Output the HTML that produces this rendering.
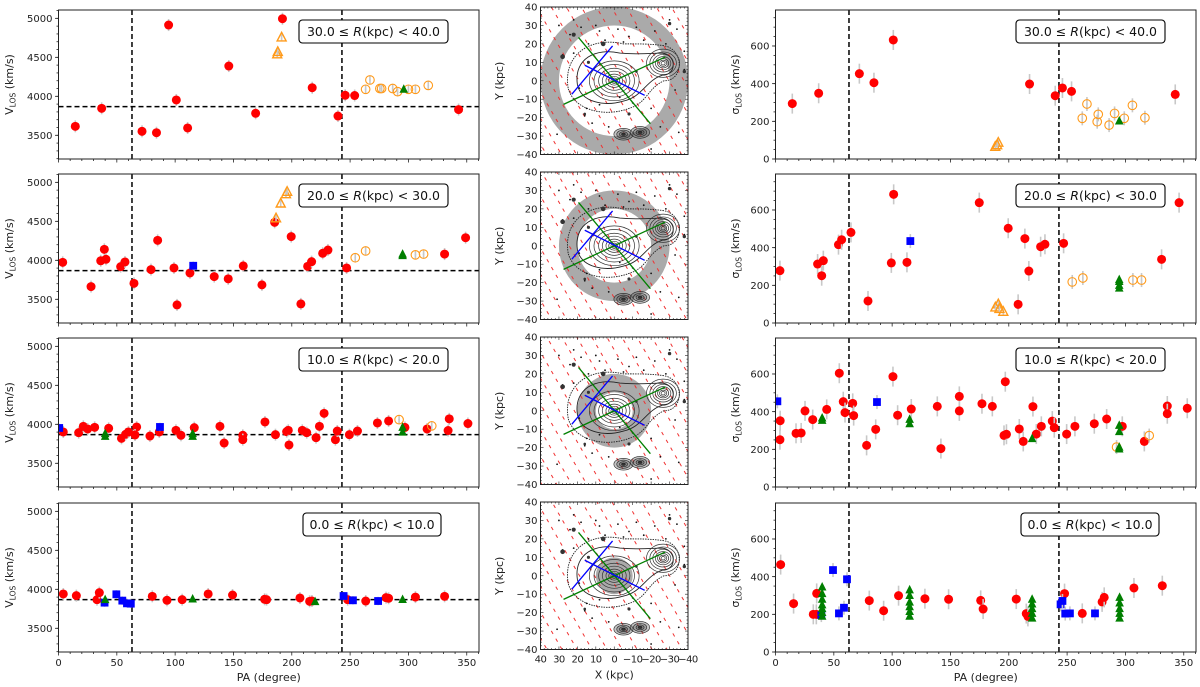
<!DOCTYPE html>
<html><head><meta charset="utf-8">
<style>
html,body{margin:0;padding:0;background:#fff;}
svg{display:block;font-family:"DejaVu Sans","Liberation Sans",sans-serif;}
</style></head>
<body>
<svg id="fig" width="1200" height="687" viewBox="0 0 1200 687" xmlns="http://www.w3.org/2000/svg">
<defs>
<pattern id="hatch" patternUnits="userSpaceOnUse" width="13" height="9" patternTransform="rotate(-30)">
<line x1="6" y1="3" x2="6" y2="6.5" stroke="#f03030" stroke-width="1"/>
</pattern>
</defs>
</svg>
<script>
// ===== Left column data: V_LOS vs PA =====
const bins = ["30.0","40.0","20.0","30.0","10.0","20.0","0.0","10.0"];
const vRed1 = [[14.4,3615],[37,3846],[71.6,3551],[84,3533],[94.4,4914],[101,3953],[110.7,3594],[146,4388],[169,3782],[192,4995],[217.5,4110],[239.6,3747],[245.8,4013],[253.9,4010],[343,3830]];
const vOrTri1 = [[191.3,4756],[187.5,4540],[188,4570]];
const vOrCirc1 = [[263.3,4090],[267,4210],[275.5,4100],[277,4100],[286.5,4100],[290.7,4060],[300,4090],[306,4090],[317,4140]];
const vGreen1 = [[296,4090]];
const vBlue1 = [];
const vRed2 = [[3.6,3974],[27.9,3663],[36.2,3994],[39.3,4141],[40.7,4013],[53.3,3919],[57,3979],[64.7,3705],[79.3,3881],[85,4256],[99,3902],[101.6,3428],[112.7,3838],[133.5,3791],[145.5,3762],[158.4,3928],[174.4,3685],[185.3,4487],[199.5,4304],[207.8,3441],[213.6,3923],[217,3983],[226.5,4090],[231,4132],[247,3902],[331,4080],[349,4290]];
const vBlue2 = [[115.5,3930]];
const vOrTri2 = [[186.5,4540],[190.5,4730],[195,4850],[196,4880]];
const vOrCirc2 = [[254.4,4033],[263.3,4120],[306,4070],[313,4080]];
const vGreen2 = [[295,4060],[295,4080]];
const vRed3 = [[4.1,3902],[17.3,3893],[21.3,3974],[25,3940],[31,3961],[43,3949],[54,3820],[57.6,3872],[60,3902],[67,3966],[65.6,3863],[78.4,3850],[86.4,3902],[100.7,3923],[105,3859],[116.4,3957],[138.4,3974],[142,3760],[158,3859],[158,3803],[177,4030],[186,3867],[195.6,3906],[197,3923],[197.6,3735],[209,3923],[212.8,3893],[220.8,3829],[223.7,3974],[227.7,4141],[237.4,3803],[239,3914],[249.4,3867],[256.3,3914],[273.4,4017],[283,4043],[297,3960],[316,3940],[335,4070],[334,3920],[351,4010]];
const vBlue3 = [[0.6,3953],[87,3966]];
const vGreen3 = [[40,3846],[40,3880],[115,3846],[115,3880],[295,3900],[295,3960]];
const vOrCirc3 = [[292,4060],[320,3980]];
const vOrTri3 = [];
const vRed4 = [[4.1,3940],[15.3,3919],[33,3867],[35,3957],[80.4,3910],[93,3859],[106,3867],[128.3,3940],[149.2,3927],[176.7,3872],[178.4,3867],[207,3889],[215.3,3846],[217.3,3850],[247.9,3867],[263.4,3850],[280.8,3893],[283,3885],[306,3900],[331,3910]];
const vBlue4 = [[39.5,3829],[49.6,3936],[54.7,3855],[58.7,3820],[62,3816],[244.4,3914],[252.4,3859],[274,3850]];
const vGreen4 = [[40,3867],[115,3876],[220,3842],[295,3870]];
const vOrCirc4 = [];
const vOrTri4 = [];
// ===== Right column data: sigma_LOS vs PA =====
const sRed1 = [[14.4,294],[37,349],[71.9,453],[84.4,405],[101,632],[217.8,398],[239.8,336],[246,377],[253.8,359],[342.7,343]];
const sOrTri1 = [[191,87],[188.4,65],[190,74]];
const sOrCirc1 = [[263,216],[267,292],[275.8,198],[276.7,237],[286,180],[290.7,242],[299,216],[306,285],[316.7,219]];
const sGreen1 = [[294.7,202]];
const sBlue1 = [];
const sRed2 = [[3.8,278],[36.1,313],[41,331],[39.6,251],[54,416],[56.7,442],[64.7,481],[79.3,117],[99.3,319],[101.3,683],[112.7,322],[174.7,639],[199.5,503],[208,99],[213.8,448],[217.2,276],[227.3,405],[231,418],[247,423],[331,338],[346,639]];
const sBlue2 = [[115.6,435]];
const sOrTri2 = [[191,100],[188.5,83],[195.3,60],[192,75]];
const sOrCirc2 = [[254.4,218],[263.5,239],[306.4,228],[313.8,228]];
const sGreen2 = [[294.7,185],[294.7,200],[294.7,220],[294.7,230]];
const sRed3 = [[3.8,251],[4,352],[17.6,285],[22,287],[25.3,404],[31.9,358],[43.9,412],[54.7,604],[58.1,453],[59.6,395],[66.2,444],[67,379],[78.1,221],[85.9,306],[100.7,586],[104.7,381],[116.4,414],[138.7,428],[141.8,204],[157.6,481],[157.6,404],[177,442],[185.9,428],[197,559],[195.9,274],[198,280],[209,308],[212.4,242],[220.7,427],[223.6,281],[227.9,322],[237.3,350],[239,315],[249.6,281],[256.7,322],[273.3,336],[283.9,361],[297.3,322],[316.2,242],[335.9,430],[335.9,389],[353,418]];
const sBlue3 = [[1.6,455],[87,451]];
const sGreen3 = [[40,366],[40,354],[115,359],[115,336],[220,257],[294.7,327],[294.7,294],[294.7,212],[294.7,202]];
const sOrCirc3 = [[292.4,212],[320.4,273]];
const sOrTri3 = [];
const sRed4 = [[4.4,464],[15.5,257],[35,200],[32.4,200],[35.3,311],[80.4,273],[92.7,219],[105.5,299],[128.1,283],[148.4,280],[175.9,274],[178,228],[206.4,281],[215,204],[216.4,189],[247.8,310],[263,205],[280,266],[281.8,290],[307.3,340],[331.6,352]];
const sBlue4 = [[39.3,196],[49.3,435],[54.4,205],[58.7,235],[61.3,386],[244.4,253],[246,271],[248.4,204],[252.4,205],[273.9,205]];
const sGreen4 = [[40,190],[40,210],[40,230],[40,250],[40,280],[40,310],[40,345],[115,190],[115,215],[115,240],[115,265],[115,300],[115,330],[220,180],[220,205],[220,230],[220,255],[220,280],[295,180],[295,205],[295,230],[295,260],[295,290]];
const sOrCirc4 = [];
const sOrTri4 = [];
// reference lines
const paLines = [63, 243];
const vSys = 3867;
const vTicks = [3500, 4000, 4500, 5000];
const sTicks = [0, 200, 400, 600];
const paTicks = [0, 50, 100, 150, 200, 250, 300, 350];
const kpcTicks = [40, 30, 20, 10, 0, -10, -20, -30, -40];
const kpcLabelsX = ["40","30","20","10","0","\u221210","\u221220","\u221230","\u221240"];
// map features (kpc)
const greenLines = [[[19.4,23.5],[-19.6,-23.3]],[[27.5,-12.8],[-27.7,12.9]]];
const blueLines = [[[23,-7.3],[0.9,18.9]],[[16,8.4],[-16.5,-7.9]]];
const annuli = [[30,40],[20,30],[10,20],[0,10]];

const SERIES = {
  v: [
    {red:vRed1, blue:vBlue1, green:vGreen1, orcirc:vOrCirc1, ortri:vOrTri1},
    {red:vRed2, blue:vBlue2, green:vGreen2, orcirc:vOrCirc2, ortri:vOrTri2},
    {red:vRed3, blue:vBlue3, green:vGreen3, orcirc:vOrCirc3, ortri:vOrTri3},
    {red:vRed4, blue:vBlue4, green:vGreen4, orcirc:vOrCirc4, ortri:vOrTri4}
  ],
  s: [
    {red:sRed1, blue:sBlue1, green:sGreen1, orcirc:sOrCirc1, ortri:sOrTri1},
    {red:sRed2, blue:sBlue2, green:sGreen2, orcirc:sOrCirc2, ortri:sOrTri2},
    {red:sRed3, blue:sBlue3, green:sGreen3, orcirc:sOrCirc3, ortri:sOrTri3},
    {red:sRed4, blue:sBlue4, green:sGreen4, orcirc:sOrCirc4, ortri:sOrTri4}
  ]
};

const NS = "http://www.w3.org/2000/svg";
const svg = document.getElementById("fig");
function el(tag, attrs, parent, name, inter) {
  const e = document.createElementNS(NS, tag);
  for (const k in attrs) e.setAttribute(k, attrs[k]);
  
  
  (parent || svg).appendChild(e);
  return e;
}
function txt(s, attrs, parent, name) {
  const t = el("text", attrs, parent, name, false);
  t.textContent = s;
  return t;
}

const tops = [10, 174, 338, 503];
const PH = 149;
const LX0 = 58.5, LX1 = 479, RX0 = 775.5, RX1 = 1196;
const PAMAX = 360.5;
const VMIN = 3196, VMAX = 5107, SMIN = 0, SMAX = 791;

function drawMarkers(g, pts, kind, sx, sy, errLen, name) {
  pts.forEach(function(p) {
    const x = sx(p[0]), y = sy(p[1]);
    el("line", {x1:x, x2:x, y1:y-errLen, y2:y+errLen, stroke:"#c8c8c8", "stroke-width":1.6}, g, name + "-errorbar", false);
    if (kind === "red") {
      el("circle", {cx:x, cy:y, r:4.5, fill:"#ff0000"}, g, name + "-point", false);
    } else if (kind === "blue") {
      el("rect", {x:x-3.9, y:y-3.9, width:7.8, height:7.8, fill:"#0000ff"}, g, name + "-point", false);
    } else if (kind === "green") {
      el("polygon", {points:(x)+","+(y-5)+" "+(x-4.3)+","+(y+3.5)+" "+(x+4.3)+","+(y+3.5), fill:"#007f00"}, g, name + "-point", false);
    } else if (kind === "orcirc") {
      el("circle", {cx:x, cy:y, r:4.3, fill:"none", stroke:"#ff9a1a", "stroke-width":1.1}, g, name + "-point", false);
      el("circle", {cx:x, cy:y, r:0.9, fill:"#c8c8c8"}, g, name + "-center", false);
    } else if (kind === "ortri") {
      el("polygon", {points:(x)+","+(y-5)+" "+(x-4.5)+","+(y+3.6)+" "+(x+4.5)+","+(y+3.6), fill:"none", stroke:"#ff9a1a", "stroke-width":1.4}, g, name + "-point", false);
    }
  });
}

function scatterPanel(i, side) {
  const top = tops[i], bot = top + PH;
  const x0 = side === "L" ? LX0 : RX0, x1 = side === "L" ? LX1 : RX1;
  const ymin = side === "L" ? VMIN : SMIN, ymax = side === "L" ? VMAX : SMAX;
  const sx = function(pa){ return x0 + (pa / PAMAX) * (x1 - x0); };
  const sy = function(v){ return bot - (v - ymin) / (ymax - ymin) * PH; };
  const pname = (side === "L" ? "vlos-panel-" : "sigma-panel-") + (i + 1);
  const g = el("g", {}, svg, pname, false);
  const cid = "clip" + side + i;
  const cp = el("clipPath", {id: cid}, g, pname + "-clip", false);
  el("rect", {x:x0, y:top, width:x1-x0, height:PH}, cp, pname + "-clip-rect", false);
  el("rect", {x:x0, y:top, width:x1-x0, height:PH, fill:"#fff"}, g, pname + "-background", false);
  const plot = el("g", {"clip-path":"url(#" + cid + ")"}, g, pname + "-plot-area", false);
  paLines.forEach(function(pa){
    el("line", {x1:sx(pa), x2:sx(pa), y1:top, y2:bot, stroke:"#000", "stroke-width":1.5, "stroke-dasharray":"5,3"}, plot, pname + "-pa-line", false);
  });
  if (side === "L") {
    el("line", {x1:x0, x2:x1, y1:sy(vSys), y2:sy(vSys), stroke:"#000", "stroke-width":1.5, "stroke-dasharray":"5,3"}, plot, pname + "-vsys-line", false);
  }
  const S = SERIES[side === "L" ? "v" : "s"][i];
  const errL = side === "L" ? 6 : 10;
  drawMarkers(plot, S.red, "red", sx, sy, errL, pname + "-red");
  drawMarkers(plot, S.ortri, "ortri", sx, sy, 3, pname + "-orange-triangle");
  drawMarkers(plot, S.orcirc, "orcirc", sx, sy, errL*0.7, pname + "-orange-circle");
  drawMarkers(plot, S.blue, "blue", sx, sy, errL*0.7, pname + "-blue-square");
  drawMarkers(plot, S.green, "green", sx, sy, 3, pname + "-green-triangle");
  el("rect", {x:x0, y:top, width:x1-x0, height:PH, fill:"none", stroke:"#222", "stroke-width":1}, g, pname + "-frame", false);
  for (let pa = 0; pa <= 360; pa += 10) {
    const major = pa % 50 === 0;
    el("line", {x1:sx(pa), x2:sx(pa), y1:bot, y2:bot + (major ? 3.5 : 2), stroke:"#222", "stroke-width":0.8}, g, pname + "-x-tick", false);
  }
  if (i === 3) {
    paTicks.forEach(function(pa){
      txt(String(pa), {x:sx(pa), y:bot + 14, "font-size":10, "text-anchor":"middle", fill:"#222"}, g, pname + "-x-tick-label");
    });
    txt("PA (degree)", {x:(x0 + x1) / 2, y:bot + 29, "font-size":11, "text-anchor":"middle", fill:"#222"}, g, pname + "-x-axis-title");
  }
  const ticks = side === "L" ? vTicks : sTicks;
  const minorStep = side === "L" ? 100 : 50;
  for (let v = Math.ceil(ymin / minorStep) * minorStep; v <= ymax; v += minorStep) {
    el("line", {x1:x0 - 2, x2:x0, y1:sy(v), y2:sy(v), stroke:"#222", "stroke-width":0.8}, g, pname + "-y-minor-tick", false);
  }
  ticks.forEach(function(v){
    el("line", {x1:x0 - 3.5, x2:x0, y1:sy(v), y2:sy(v), stroke:"#222", "stroke-width":0.8}, g, pname + "-y-tick", false);
    txt(String(v), {x:x0 - 6, y:sy(v) + 3.6, "font-size":10, "text-anchor":"end", fill:"#222"}, g, pname + "-y-tick-label");
  });
  const tx = side === "L" ? 13 : 739;
  const ty = top + PH / 2;
  const t = el("text", {x:tx, y:ty, "font-size":11, "text-anchor":"middle", fill:"#222", transform:"rotate(-90 " + tx + " " + ty + ")"}, g, pname + "-y-axis-title", false);
  const sym = side === "L" ? "V" : "\u03c3";
  const a = document.createElementNS(NS, "tspan"); a.textContent = sym; t.appendChild(a);
  const b = document.createElementNS(NS, "tspan"); b.setAttribute("font-size", "7.5"); b.setAttribute("dy", "2.5"); b.textContent = "LOS"; t.appendChild(b);
  const c = document.createElementNS(NS, "tspan"); c.setAttribute("dy", "-2.5"); c.textContent = " (km/s)"; t.appendChild(c);
  const bx = side === "L" ? (i === 3 ? 303 : 299) : (i === 3 ? 1021 : 1016);
  const bw = i === 3 ? 138 : 149;
  el("rect", {x:bx, y:top + 10, width:bw, height:23, rx:3.5, fill:"#fff", stroke:"#000", "stroke-width":1.1}, g, pname + "-bin-label-box", false);
  const lt = el("text", {x:bx + bw / 2, y:top + 26, "font-size":12.5, "text-anchor":"middle", fill:"#111"}, g, pname + "-bin-label", false);
  lt.textContent = bins[2*i] + " \u2264 ";
  const ri = document.createElementNS(NS, "tspan"); ri.setAttribute("font-style", "italic"); ri.textContent = "R"; lt.appendChild(ri);
  const rest = document.createElementNS(NS, "tspan"); rest.textContent = "(kpc) < " + bins[2*i + 1]; lt.appendChild(rest);
}

// ===== middle maps =====
const MX0 = 540.5, MS = 147.5;
const mtops = [7, 172, 337, 502];
const dots = [[31,-29],[22,33],[28,14],[24,25],[18,29],[8,27],[5,22],[10,30],[-2,28],[14,20],[-5,21],[-8,24],[-12,29],[-22,27],[-30,33],[-34,28],[-38,16],[-38,6],[15,-15],[12,-23],[8,-13],[-10,-12],[-20,-15],[-35,-28],[-20,-37],[19,-4],[22,15],[-3,-9],[-16,22],[30,30],[16,-19],[3,-25],[-25,-25],[-33,-5],[-28,20]];
const bigDots = [[28,13,1.8],[22,25,1.6],[6,20,1.8],[-30,31,1.3],[14,10,1.2],[-12,5,1.0],[-38,5,1.3],[-8,-18,1.2],[16,-18,1.0]];

function mapPanel(i) {
  const top = mtops[i];
  const mx = function(X){ return MX0 + (40 - X) / 80 * MS; };
  const my = function(Y){ return top + (40 - Y) / 80 * MS; };
  const k = MS / 80;
  const pname = "map-panel-" + (i + 1);
  const g = el("g", {}, svg, pname, false);
  const cid = "mclip" + i;
  const cp = el("clipPath", {id:cid}, g, pname + "-clip", false);
  el("rect", {x:MX0, y:top, width:MS, height:MS}, cp, pname + "-clip-rect", false);
  el("rect", {x:MX0, y:top, width:MS, height:MS, fill:"#fff"}, g, pname + "-background", false);
  const p = el("g", {"clip-path":"url(#" + cid + ")"}, g, pname + "-plot-area", false);
  const r0 = annuli[i][0] * k, r1 = annuli[i][1] * k;
  const cx = mx(0), cy = my(0);
  let d = "M" + (cx - r1) + "," + cy + " a" + r1 + "," + r1 + " 0 1,0 " + (2*r1) + ",0 a" + r1 + "," + r1 + " 0 1,0 " + (-2*r1) + ",0 Z";
  if (r0 > 0) d += " M" + (cx - r0) + "," + cy + " a" + r0 + "," + r0 + " 0 1,1 " + (2*r0) + ",0 a" + r0 + "," + r0 + " 0 1,1 " + (-2*r0) + ",0 Z";
  el("path", {d:d, fill:"#aaaaaa", "fill-rule":"evenodd"}, p, pname + "-radial-bin", false);
  el("rect", {x:MX0, y:top, width:MS, height:MS, fill:"url(#hatch)"}, p, pname + "-slit-hatch", false);
  el("path", {d:"M" + mx(25) + "," + my(-4) + " C" + mx(28) + "," + my(15) + " " + mx(12) + "," + my(24) + " " + mx(-5) + "," + my(20) + " C" + mx(-15) + "," + my(20) + " " + mx(-20) + "," + my(20) + " " + mx(-27) + "," + my(19) + " C" + mx(-38) + "," + my(17) + " " + mx(-38) + "," + my(0) + " " + mx(-27) + "," + my(0) + " C" + mx(-18) + "," + my(-4) + " " + mx(-18) + "," + my(-12) + " " + mx(-8) + "," + my(-15) + " C" + mx(5) + "," + my(-20) + " " + mx(22) + "," + my(-16) + " " + mx(25) + "," + my(-4) + " Z", fill:"none", stroke:"#222", "stroke-width":0.9, "stroke-dasharray":"1.5,1"}, p, pname + "-outer-contour", false);
  el("path", {d:"M" + mx(20) + "," + my(-2) + " C" + mx(22) + "," + my(12) + " " + mx(10) + "," + my(18) + " " + mx(-3) + "," + my(15) + " C" + mx(-14) + "," + my(14) + " " + mx(-20) + "," + my(15) + " " + mx(-26) + "," + my(15) + " C" + mx(-34) + "," + my(14) + " " + mx(-34) + "," + my(3) + " " + mx(-26) + "," + my(3) + " C" + mx(-17) + "," + my(0) + " " + mx(-15) + "," + my(-9) + " " + mx(-5) + "," + my(-11) + " C" + mx(5) + "," + my(-14) + " " + mx(18) + "," + my(-12) + " " + mx(20) + "," + my(-2) + " Z", fill:"none", stroke:"#222", "stroke-width":0.9}, p, pname + "-contour", false);
  [13.5, 11, 8.5, 6.5, 4.5, 3, 1.8, 0.9].forEach(function(r){
    el("ellipse", {cx:cx, cy:cy, rx:r * k, ry:r * 0.8 * k, fill:"none", stroke:"#333", "stroke-width":0.7}, p, pname + "-galaxy-contour", false);
  });
  const ccx = mx(-26.5), ccy = my(9.5);
  [9, 7.2, 5.6, 4.2, 3, 2, 1.1].forEach(function(r){
    el("ellipse", {cx:ccx, cy:ccy, rx:r * k, ry:r * 0.85 * k, fill:"none", stroke:"#333", "stroke-width":0.7}, p, pname + "-companion-contour", false);
  });
  [[-5,-29],[-14,-28]].forEach(function(c){
    [4, 2.8, 1.7, 0.8].forEach(function(r){
      el("ellipse", {cx:mx(c[0]), cy:my(c[1]), rx:r * k * 1.3, ry:r * k * 0.8, fill:r < 1 ? "#333" : "rgba(90,90,90,0.35)", stroke:"#222", "stroke-width":0.6}, p, pname + "-pair-contour", false);
    });
  });
  dots.forEach(function(q){
    el("circle", {cx:mx(q[0]), cy:my(q[1]), r:0.9, fill:"#111"}, p, pname + "-source", false);
  });
  bigDots.forEach(function(q){
    el("circle", {cx:mx(q[0]), cy:my(q[1]), r:q[2] * 1.3, fill:"#333"}, p, pname + "-bright-source", false);
  });
  greenLines.forEach(function(l){
    el("line", {x1:mx(l[0][0]), y1:my(l[0][1]), x2:mx(l[1][0]), y2:my(l[1][1]), stroke:"#008000", "stroke-width":1.3}, p, pname + "-green-slit", false);
  });
  blueLines.forEach(function(l){
    el("line", {x1:mx(l[0][0]), y1:my(l[0][1]), x2:mx(l[1][0]), y2:my(l[1][1]), stroke:"#0000ff", "stroke-width":1.3}, p, pname + "-blue-slit", false);
  });
  el("rect", {x:MX0, y:top, width:MS, height:MS, fill:"none", stroke:"#222", "stroke-width":1}, g, pname + "-frame", false);
  for (let v = -40; v <= 40; v += 2) {
    const len = v % 10 === 0 ? 3 : 1.5;
    el("line", {x1:mx(v), x2:mx(v), y1:top + MS, y2:top + MS - len, stroke:"#222", "stroke-width":0.6}, g, pname + "-x-tick", false);
    el("line", {x1:mx(v), x2:mx(v), y1:top, y2:top + len, stroke:"#222", "stroke-width":0.6}, g, pname + "-x-tick", false);
    el("line", {x1:MX0, x2:MX0 + len, y1:my(v), y2:my(v), stroke:"#222", "stroke-width":0.6}, g, pname + "-y-tick", false);
    el("line", {x1:MX0 + MS, x2:MX0 + MS - len, y1:my(v), y2:my(v), stroke:"#222", "stroke-width":0.6}, g, pname + "-y-tick", false);
  }
  kpcTicks.forEach(function(v, j){
    txt(kpcLabelsX[8 - j], {x:MX0 - 3, y:my(kpcTicks[8 - j]) + 3.5, "font-size":10, "text-anchor":"end", fill:"#222"}, g, pname + "-y-tick-label");
  });
  const tx = 503, ty = top + MS / 2;
  txt("Y (kpc)", {x:tx, y:ty, "font-size":11, "text-anchor":"middle", fill:"#222", transform:"rotate(-90 " + tx + " " + ty + ")"}, g, pname + "-y-axis-title");
  if (i === 3) {
    kpcTicks.forEach(function(v, j){
      txt(kpcLabelsX[j], {x:mx(v), y:top + MS + 13, "font-size":10, "text-anchor":"middle", fill:"#222", "letter-spacing":"-0.5"}, g, pname + "-x-tick-label");
    });
    txt("X (kpc)", {x:mx(0), y:top + MS + 29, "font-size":11, "text-anchor":"middle", fill:"#222"}, g, pname + "-x-axis-title");
  }
}

for (let i = 0; i < 4; i++) {
  scatterPanel(i, "L");
  mapPanel(i);
  scatterPanel(i, "R");
}
</script>
</body></html>
